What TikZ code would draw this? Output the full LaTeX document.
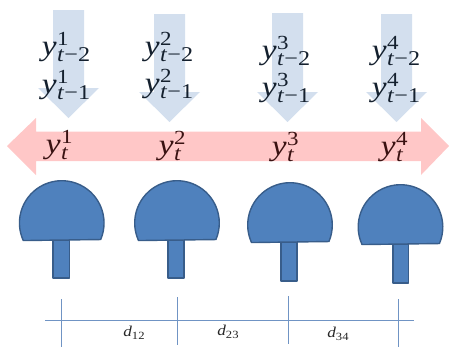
\documentclass[tikz,border=0pt]{standalone}
\usepackage{fontspec}
\newfontfamily\subfont[FakeStretch=1.15]{Liberation Serif}
\definecolor{bluearrow}{HTML}{D3DFEE}
\definecolor{pinkarrow}{HTML}{FFC7C7}
\definecolor{domefill}{HTML}{4F81BD}
\definecolor{domeline}{HTML}{385D8A}
\definecolor{ruler}{HTML}{7094C4}
\definecolor{inkblue}{HTML}{14202E}
\definecolor{inkred}{HTML}{3A1212}
\newcommand{\ylab}[2]{{\fontsize{29}{29}\subfont\itshape y}\kern0.5pt\rlap{\raisebox{10.5pt}{\fontsize{20}{20}\subfont #1}}\raisebox{-6pt}{\fontsize{21}{21}\subfont #2}}
\newcommand{\dlab}[1]{{\fontsize{15}{15}\subfont\itshape d}\raisebox{-3pt}{\fontsize{11}{11}\subfont #1}}
\tikzset{
  downarrow/.style={fill=bluearrow,draw=none},
  rightleft/.style={fill=pinkarrow,draw=none},
  dome/.style={fill=domefill,draw=domeline,line width=1.4pt,line join=round},
  rulerline/.style={draw=ruler,line width=0.8pt},
  pastlabel/.style={text=inkblue,inner sep=0pt},
  nowlabel/.style={text=inkred,inner sep=0pt},
  dlabel/.style={text=black!85,inner sep=0pt}
}
\begin{document}
\begin{tikzpicture}[x=1pt,y=-1pt]
\useasboundingbox (0,0) rectangle (449,348);
% pink double arrow
\path[rightleft] (7,146) -- (36,118) -- (36,131.5) -- (421,131.5) -- (421,118) -- (449,146) -- (421,175) -- (421,161) -- (36,161) -- (36,175) -- cycle;
% blue down arrows: centre x, top y, head base y
\foreach \cx/\ty/\hy in {68.5/10/88, 169.5/14/92, 287.5/13/92, 396.5/14/92}{
  \path[downarrow] (\cx-15.5,\ty) -- (\cx+15.5,\ty) -- (\cx+15.5,\hy) -- (\cx+30.5,\hy) -- (\cx,\hy+30) -- (\cx-30.5,\hy) -- (\cx-15.5,\hy) -- cycle;
}
% labels
\node[pastlabel] (a1) at (66,47) {\ylab{1}{\textit{t}−2}};
\node[pastlabel] (b1) at (66,85) {\ylab{1}{\textit{t}−1}};
\node[nowlabel] (c1) at (57,145) {\ylab{1}{\textit{t}}};
\node[pastlabel] (a2) at (169,47) {\ylab{2}{\textit{t}−2}};
\node[pastlabel] (b2) at (169,84) {\ylab{2}{\textit{t}−1}};
\node[nowlabel] (c2) at (170,146) {\ylab{2}{\textit{t}}};
\node[pastlabel] (a3) at (286,51) {\ylab{3}{\textit{t}−2}};
\node[pastlabel] (b3) at (286,88) {\ylab{3}{\textit{t}−1}};
\node[nowlabel] (c3) at (283,147) {\ylab{3}{\textit{t}}};
\node[pastlabel] (a4) at (396,51) {\ylab{4}{\textit{t}−2}};
\node[pastlabel] (b4) at (396,88) {\ylab{4}{\textit{t}−1}};
\node[nowlabel] (c4) at (392,147) {\ylab{4}{\textit{t}}};
% domes with stems: dome centre x, y, stem left, right, bottom
\foreach \cx/\cy/\sl/\sr/\sb in {61.75/223/53/69.5/278, 177/223/168/184/278, 290/225/281/297/281, 400.5/227/393/408.5/283}{
  \draw[dome] (\sl,\cy+17) rectangle (\sr,\sb);
  \draw[dome] (\cx,\cy) ++(155.5:42.3) arc[start angle=155.5,end angle=383,radius=42.3] -- cycle;
}
% ruler
\coordinate (rl) at (45,320);
\coordinate (rr) at (414,320);
\draw[rulerline] (rl) -- (rr);
\foreach \x/\a/\b in {61/299/347, 177.5/297/345, 288/296/344, 398/299/347}{
  \draw[rulerline] (\x,\a) -- (\x,\b);
}
\node[dlabel] (d12) at (134,333) {\dlab{12}};
\node[dlabel] (d23) at (228,332) {\dlab{23}};
\node[dlabel] (d34) at (338,334) {\dlab{34}};
\end{tikzpicture}
\end{document}
